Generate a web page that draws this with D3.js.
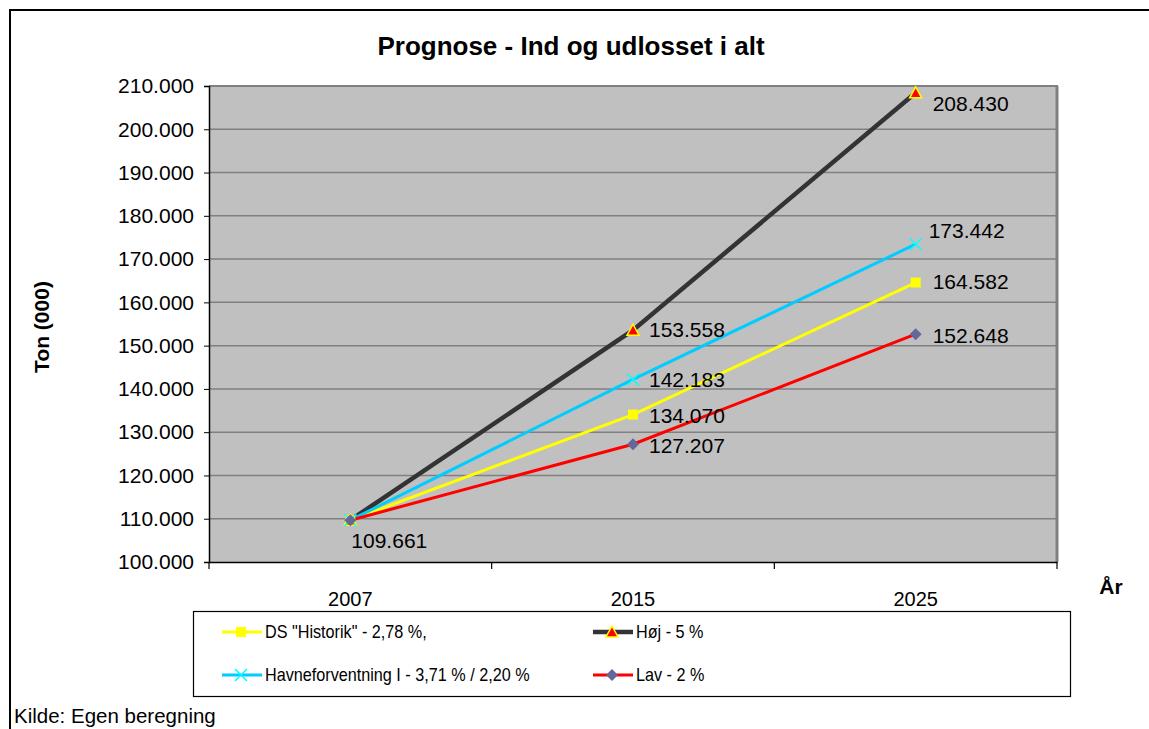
<!DOCTYPE html>
<html><head><meta charset="utf-8">
<script src="https://cdn.jsdelivr.net/npm/d3@7"></script>
<style>body{margin:0;background:#fff}svg{display:block;font-family:"Liberation Sans",Arial,sans-serif}</style>
</head><body>
<svg id="c" width="1149" height="729"></svg>
<script>
const years = ["2007", "2015", "2025"];
const seriesNames = ['DS "Historik" - 2,78 %,', "Høj - 5 %", "Havneforventning I - 3,71 % / 2,20 %", "Lav - 2 %"];
const dsValues = [109661, 134070, 164582];
const hojValues = [109661, 153558, 208430];
const havneValues = [109661, 142183, 173442];
const lavValues = [109661, 127207, 152648];
const yTicks = [100000, 110000, 120000, 130000, 140000, 150000, 160000, 170000, 180000, 190000, 200000, 210000];

const series = [
  {name: seriesNames[0], values: dsValues, color: "#FFFF00", width: 3, marker: "square"},
  {name: seriesNames[1], values: hojValues, color: "#333333", width: 4.5, marker: "triangle"},
  {name: seriesNames[2], values: havneValues, color: "#00CCFF", width: 3, marker: "x"},
  {name: seriesNames[3], values: lavValues, color: "#FF0000", width: 3, marker: "diamond"}
];

const loc = d3.formatLocale({decimal: ",", thousands: ".", grouping: [3], currency: ["", ""]});
const fmt = loc.format(",d");

const svg = d3.select("#c");
const L = 209, R = 1057, T = 86, B = 562;
const x = d3.scaleBand().domain(years).range([L, R]).padding(0);
const y = d3.scaleLinear().domain([100000, 210000]).range([B, T]);
const cx = d => x(d) + x.bandwidth() / 2;

// outer frame
svg.append("line").attr("x1", 9).attr("x2", 1149).attr("y1", 10).attr("y2", 10).attr("stroke", "#000").attr("stroke-width", 2);
svg.append("line").attr("x1", 10).attr("x2", 10).attr("y1", 9).attr("y2", 729).attr("stroke", "#000").attr("stroke-width", 2);

// title
svg.append("text").attr("x", 571).attr("y", 55).attr("text-anchor", "middle")
  .attr("font-size", 26).attr("font-weight", "bold").text("Prognose - Ind og udlosset i alt");

// plot background
svg.append("rect").attr("x", L).attr("y", T).attr("width", R - L).attr("height", B - T).attr("fill", "#C0C0C0");
// grid
svg.append("g").selectAll("line").data(yTicks.slice(1)).join("line")
  .attr("x1", L).attr("x2", R).attr("y1", d => y(d)).attr("y2", d => y(d))
  .attr("stroke", "#808080").attr("stroke-width", 1.5);
// plot border top/right
svg.append("line").attr("x1", L).attr("x2", R + 1).attr("y1", T).attr("y2", T).attr("stroke", "#808080").attr("stroke-width", 2);
svg.append("line").attr("x1", R).attr("x2", R).attr("y1", T).attr("y2", B).attr("stroke", "#808080").attr("stroke-width", 3);

// axes
const yAxis = d3.axisLeft(y).tickValues(yTicks).tickFormat(fmt).tickSize(5).tickPadding(10);
const gy = svg.append("g").attr("transform", `translate(${L},0)`).call(yAxis);
gy.select(".domain").attr("stroke", "#000").attr("stroke-width", 1.5);
gy.selectAll("text").attr("font-size", 21).attr("fill", "#000").attr("font-family", "Liberation Sans, Arial, sans-serif");

const xAxis = d3.axisBottom(x).tickSize(0).tickPadding(30);
const gx = svg.append("g").attr("transform", `translate(0,${B})`).call(xAxis);
gx.select(".domain").attr("stroke", "#000").attr("stroke-width", 1.5);
gx.selectAll("text").attr("font-size", 20).attr("fill", "#000").attr("font-family", "Liberation Sans, Arial, sans-serif");
// category boundary ticks
svg.append("g").selectAll("line").data(years.concat(["end"])).join("line")
  .attr("x1", (d, i) => L + i * x.bandwidth()).attr("x2", (d, i) => L + i * x.bandwidth())
  .attr("y1", B).attr("y2", B + 7).attr("stroke", "#000").attr("stroke-width", 1.2);

// axis titles
svg.append("text").attr("transform", "translate(49,327) rotate(-90)").attr("text-anchor", "middle")
  .attr("font-size", 21).attr("font-weight", "bold").text("Ton (000)");
svg.append("text").attr("x", 1111).attr("y", 594).attr("text-anchor", "middle")
  .attr("font-size", 21).attr("font-weight", "bold").text("År");

function drawMarker(g, type, px, py) {
  if (type === "square") {
    g.append("rect").attr("x", px - 5).attr("y", py - 5).attr("width", 10).attr("height", 10).attr("fill", "#FFFF00");
  } else if (type === "triangle") {
    g.append("path").attr("d", `M${px},${py - 6}L${px + 6},${py + 5}L${px - 6},${py + 5}Z`)
      .attr("fill", "#FF0000").attr("stroke", "#FFFF00").attr("stroke-width", 1.5);
  } else if (type === "x") {
    g.append("path").attr("d", `M${px - 6},${py - 6}L${px + 6},${py + 6}M${px - 6},${py + 6}L${px + 6},${py - 6}`)
      .attr("stroke", "#00FFFF").attr("stroke-width", 1.5).attr("fill", "none");
  } else if (type === "diamond") {
    g.append("path").attr("d", `M${px},${py - 6}L${px + 6},${py}L${px},${py + 6}L${px - 6},${py}Z`)
      .attr("fill", "#666699");
  }
}

const line = d3.line().x((d, i) => cx(years[i])).y(d => y(d));
const gl = svg.append("g");
series.forEach(s => {
  gl.append("path").datum(s.values).attr("d", line).attr("fill", "none")
    .attr("stroke", s.color).attr("stroke-width", s.width);
});
series.forEach(s => {
  s.values.forEach((v, i) => drawMarker(gl, s.marker, cx(years[i]), y(v)));
});

// data labels
const labelOffsets = {
  "0-1": [16, 1], "0-2": [17, -1],
  "1-1": [16, -1], "1-2": [17, 11],
  "2-1": [16, 0], "2-2": [13, -14],
  "3-1": [16, 1], "3-2": [17, 1]
};
const gt = svg.append("g").attr("font-size", 21).attr("fill", "#000");
series.forEach((s, si) => {
  s.values.forEach((v, i) => {
    if (i === 0) return;
    const o = labelOffsets[si + "-" + i];
    gt.append("text").attr("x", cx(years[i]) + o[0]).attr("y", y(v) + o[1]).attr("dy", "0.35em").text(fmt(v));
  });
});
gt.append("text").attr("x", cx(years[0]) + 1).attr("y", y(lavValues[0]) + 20).attr("dy", "0.35em").text(fmt(lavValues[0]));

// legend
const lg = svg.append("g");
lg.append("rect").attr("x", 193.5).attr("y", 611.5).attr("width", 877).attr("height", 85)
  .attr("fill", "#fff").attr("stroke", "#000").attr("stroke-width", 1.2);
const legPos = [[222, 632], [593, 632], [222, 675], [593, 675]];
series.forEach((s, i) => {
  const [lx, ly] = legPos[i];
  lg.append("line").attr("x1", lx).attr("x2", lx + 40).attr("y1", ly).attr("y2", ly)
    .attr("stroke", s.color).attr("stroke-width", s.width);
  drawMarker(lg, s.marker, lx + 19, ly);
  lg.append("text").attr("x", lx + 43).attr("y", ly).attr("dy", "0.35em").attr("font-size", 18)
    .attr("transform", `translate(${lx + 43},0) scale(0.9,1) translate(${-(lx + 43)},0)`)
    .text(s.name);
});

svg.append("text").attr("x", 14).attr("y", 716).attr("dy", "0.35em").attr("font-size", 20.5).text("Kilde: Egen beregning");
</script>
</body></html>
